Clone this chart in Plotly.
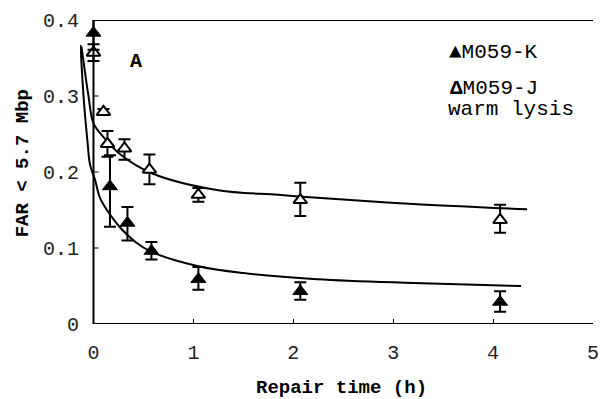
import plotly.graph_objects as go

# ---- data ----
k_x = [0, 0.165, 0.34, 0.58, 1.05, 2.07, 4.07]
k_y = [0.383, 0.181, 0.133, 0.096, 0.059, 0.043, 0.029]
k_err_plus = [0.022, 0.041, 0.021, 0.012, 0.016, 0.012, 0.014]
k_err_minus = [0.022, 0.053, 0.023, 0.011, 0.014, 0.011, 0.013]

j_x = [0, 0.1, 0.14, 0.31, 0.56, 1.05, 2.07, 4.07]
j_y = [0.357, 0.279, 0.237, 0.231, 0.203, 0.170, 0.163, 0.137]
j_err_plus = [0.011, 0.004, 0.017, 0.012, 0.020, 0.009, 0.023, 0.020]
j_err_minus = [0.011, 0.004, 0.017, 0.015, 0.019, 0.009, 0.021, 0.017]

# fitted curves
k_fit_x = [-0.13, -0.10, -0.06, -0.035, 0.015, 0.065, 0.16, 0.26, 0.42, 0.58, 1.05, 1.5, 2.24, 3.2, 4.28]
k_fit_y = [0.367, 0.300, 0.240, 0.210, 0.190, 0.166, 0.145, 0.128, 0.108, 0.095, 0.076, 0.067, 0.059, 0.054, 0.050]
j_fit_x = [-0.12, -0.05, 0, 0.1, 0.26, 0.59, 1.25, 1.85, 2.24, 3.2, 4.34]
j_fit_y = [0.365, 0.300, 0.264, 0.246, 0.224, 0.198, 0.176, 0.170, 0.166, 0.158, 0.151]

x_ticks = [0, 1, 2, 3, 4, 5]
y_ticks = [0, 0.1, 0.2, 0.3, 0.4]
y_tick_text = ["0", "0.1", "0.2", "0.3", "0.4"]

FONT = "Liberation Mono"

fig = go.Figure()
fig.add_trace(go.Scatter(x=k_fit_x, y=k_fit_y, mode="lines",
                         line=dict(color="black", width=2, shape="spline", smoothing=1.0),
                         showlegend=False, hoverinfo="skip"))
fig.add_trace(go.Scatter(x=j_fit_x, y=j_fit_y, mode="lines",
                         line=dict(color="black", width=2, shape="spline", smoothing=1.0),
                         showlegend=False, hoverinfo="skip"))
fig.add_trace(go.Scatter(x=j_x, y=j_y, mode="markers", name="M059-J warm lysis",
                         marker=dict(symbol="triangle-up", size=12, color="white",
                                     line=dict(color="black", width=2)),
                         error_y=dict(type="data", symmetric=False, array=j_err_plus,
                                      arrayminus=j_err_minus, color="black", thickness=2, width=6),
                         cliponaxis=False, showlegend=False))
fig.add_trace(go.Scatter(x=k_x, y=k_y, mode="markers", name="M059-K",
                         marker=dict(symbol="triangle-up", size=13, color="black",
                                     line=dict(color="black", width=1)),
                         error_y=dict(type="data", symmetric=False, array=k_err_plus,
                                      arrayminus=k_err_minus, color="black", thickness=2, width=6),
                         cliponaxis=False, showlegend=False))

shapes = [
    dict(type="line", xref="x", yref="y", x0=0, x1=0, y0=0, y1=0.4, line=dict(color="black", width=2)),
    dict(type="line", xref="x", yref="y", x0=0, x1=5, y0=0, y1=0, line=dict(color="black", width=2)),
    dict(type="line", xref="x", yref="y", x0=0, x1=5, y0=0.4, y1=0.4, line=dict(color="black", width=2)),
]
for yt in y_ticks[1:-1]:
    shapes.append(dict(type="line", xref="x", yref="y", x0=0, x1=0.05, y0=yt, y1=yt,
                       line=dict(color="black", width=1)))

annotations = [
    dict(text="<b>A</b>", x=0.43, y=0.345, xref="x", yref="y", showarrow=False,
         font=dict(family=FONT, size=20, color="black")),
    dict(text="▲M059-K", x=3.54, y=0.3566, xref="x", yref="y", xanchor="left", showarrow=False,
         font=dict(family=FONT, size=21, color="black")),
    dict(text="<b>Δ</b>M059-J", x=3.55, y=0.3105, xref="x", yref="y", xanchor="left", showarrow=False,
         font=dict(family=FONT, size=21, color="black")),
    dict(text="warm lysis", x=3.53, y=0.2816, xref="x", yref="y", xanchor="left", showarrow=False,
         font=dict(family=FONT, size=21, color="black")),
    dict(text="<b>Repair time (h)</b>", x=2.485, y=0, xref="x", yref="paper",
         yanchor="middle", yshift=-64, showarrow=False,
         font=dict(family=FONT, size=19, color="black")),
    dict(text="<b>FAR &lt; 5.7 Mbp</b>", x=-0.1118, y=0.211, xref="paper", yref="y",
         textangle=-90, xanchor="center", yanchor="middle", showarrow=False,
         font=dict(family=FONT, size=19, color="black")),
]

fig.update_layout(
    width=607, height=399,
    margin=dict(l=80, r=8, t=20, b=75),
    paper_bgcolor="white", plot_bgcolor="white",
    shapes=shapes, annotations=annotations,
    xaxis=dict(range=[-0.135, 5], tickvals=x_ticks, ticktext=[str(v) for v in x_ticks],
               ticks="inside", ticklen=5, tickwidth=1, tickcolor="black",
               showgrid=False, zeroline=False, showline=False,
               ticklabelstandoff=14,
               tickfont=dict(family=FONT, size=20, color="#222")),
    yaxis=dict(range=[0, 0.4], tickvals=y_ticks, ticktext=y_tick_text,
               ticks="", showgrid=False, zeroline=False, showline=False,
               tickfont=dict(family=FONT, size=20, color="#222")),
)

fig.write_html("out.html")
